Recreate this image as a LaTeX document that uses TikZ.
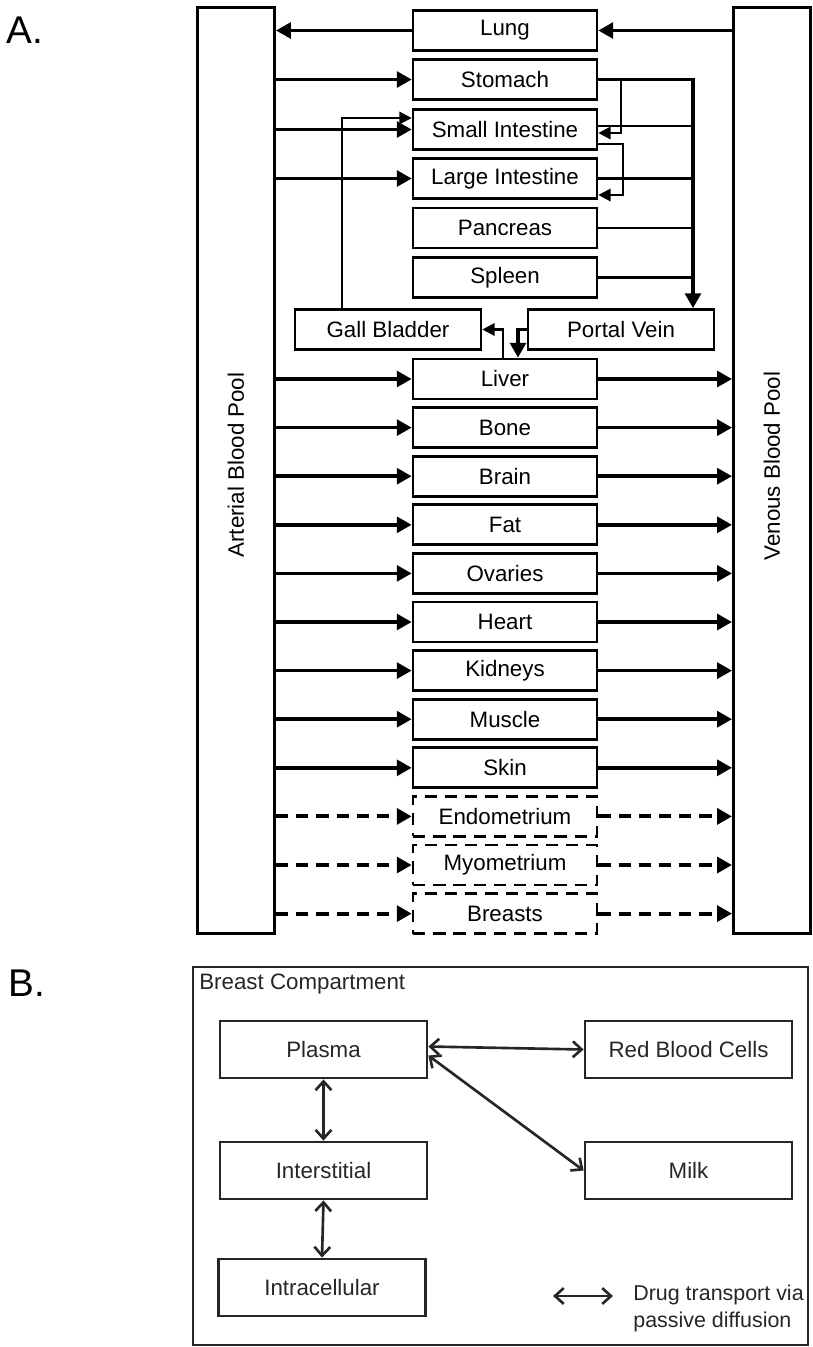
\documentclass[tikz,border=0pt]{standalone}
\usepackage{fontspec}
\setmainfont{Liberation Sans}
\usetikzlibrary{arrows.meta,calc}

\begin{document}
\begin{tikzpicture}[
    x=0.02cm, y=-0.02cm,
    organ/.style={draw, line width=1.5pt, minimum width=3.68cm,
                  minimum height=0.8cm, inner sep=0pt,
                  font=\fontsize{12.7}{15}\selectfont},
    extra/.style={organ, dash pattern=on 7pt off 4.5pt},
    pool/.style={draw, line width=1.7pt, minimum width=1.54cm,
                 minimum height=18.54cm, inner sep=0pt},
    flow/.style={line width=2pt, -{Triangle[length=8.5pt,width=9pt]}},
    dflow/.style={flow, line width=2.2pt, dash pattern=on 7pt off 4.5pt},
    gut/.style={line width=1.3pt, -{Triangle[length=7pt,width=7pt]}},
    comp/.style={draw=black!85, text=black!85, line width=1.6pt,
                 minimum width=4.14cm, minimum height=1.14cm, inner sep=0pt,
                 font=\fontsize{12.7}{15}\selectfont},
    diff/.style={draw=black!85, line width=1.5pt,
                 {Straight Barb[length=5pt,width=9pt]}-{Straight Barb[length=5pt,width=9pt]}},
  ]
    \useasboundingbox (0,0) rectangle (813,1347);

    % panel A
    \node[font=\fontsize{22}{26}\selectfont] (labA) at (25,30) {A.};
    \node[pool] (art) at (236,470.5) {};
    \node[pool] (ven) at (772,470.5) {};
    \node[rotate=90, font=\fontsize{12.7}{15}\selectfont] (artlbl) at (236,465) {Arterial Blood Pool};
    \node[rotate=90, font=\fontsize{12.7}{15}\selectfont] (venlbl) at (772,466) {Venous Blood Pool};

    \node[organ] (lung)     at (505,30.5)  {Lung};
    \node[organ] (stomach)  at (505,79.5)  {Stomach};
    \node[organ] (si)       at (505,129.5) {Small Intestine};
    \node[organ] (li)       at (505,178.5) {Large Intestine};
    \node[organ] (pancreas) at (505,228)   {Pancreas};
    \node[organ] (spleen)   at (505,277.5) {Spleen};
    \node[organ, minimum width=3.72cm] (gall) at (388,329.5) {Gall Bladder};
    \node[organ, minimum width=3.72cm] (pv)   at (621,329.5) {Portal Vein};
    \node[organ] (liver)    at (505,379)   {Liver};
    \node[organ] (bone)     at (505,427.6) {Bone};
    \node[organ] (brain)    at (505,476.2) {Brain};
    \node[organ] (fat)      at (505,524.8) {Fat};
    \node[organ] (ovaries)  at (505,573.4) {Ovaries};
    \node[organ] (heart)    at (505,622)   {Heart};
    \node[organ] (kidneys)  at (505,670.6) {Kidneys};
    \node[organ] (muscle)   at (505,719.2) {Muscle};
    \node[organ] (skin)     at (505,767.8) {Skin};
    \node[extra] (endo)     at (505,816.4) {Endometrium};
    \node[extra] (myo)      at (505,865)   {Myometrium};
    \node[extra] (breasts)  at (505,913.6) {Breasts};
    \coordinate (bus) at (693,80);

    \draw[flow] (lung.west) -- (lung.west -| art.east);
    \draw[flow] (ven.west |- lung) -- (lung.east);
    \foreach \o in {stomach,si,li,liver,bone,brain,fat,ovaries,heart,kidneys,muscle,skin}
      \draw[flow] (art.east |- \o) -- (\o.west);
    \foreach \o in {liver,bone,brain,fat,ovaries,heart,kidneys,muscle,skin}
      \draw[flow] (\o.east) -- (ven.west |- \o);
    \foreach \o in {endo,myo,breasts} {
      \draw[dflow] (art.east |- \o) -- (\o.west);
      \draw[dflow] (\o.east) -- (ven.west |- \o);
    }

    % gut and portal circulation
    \draw[gut] (stomach.east) -- ++(23,0) |- ($(si.east)+(0,3.5)$);
    \draw[gut] ($(si.east)+(0,14.5)$) -- ++(25,0) |- ($(li.east)+(0,16.5)$);
    \draw[line width=1.3pt] ($(si.east)+(0,-3.5)$) -- ++(96,0);
    \draw[line width=1.3pt] (li.east) -- (li.east -| bus);
    \draw[line width=1.3pt] (pancreas.east) -- (pancreas.east -| bus);
    \draw[line width=1.3pt] (spleen.east) -- (spleen.east -| bus);
    \draw[flow] (stomach.east) -| ($(pv.north)+(72,0)$);
    \draw[flow] (pv.west) -| ($(liver.north)+(13,0)$);
    \draw[gut] ($(liver.north)+(-2,0)$) |- (gall.east);
    \draw[gut] ($(gall.north)+(-46,0)$) |- ($(si.west)+(0,-11.5)$);

    % panel B
    \node[font=\fontsize{22}{26}\selectfont] (labB) at (27,983) {B.};
    \node[draw=black!85, line width=1.1pt, minimum width=12.3cm,
          minimum height=7.56cm, inner sep=0pt] (bc) at (500.5,1156) {};
    \node[anchor=west, inner sep=0pt, text=black!85,
          font=\fontsize{12.7}{15}\selectfont] (bctitle) at (199,984) {Breast Compartment};
    \node[comp] (plasma) at (323.5,1049.5) {Plasma};
    \node[comp] (inter)  at (323.5,1170.5) {Interstitial};
    \node[comp] (intra)  at (322,1287.5)   {Intracellular};
    \node[comp] (rbc)    at (688.5,1049.5) {Red Blood Cells};
    \node[comp] (milk)   at (688.5,1170.5) {Milk};

    \draw[diff] ($(plasma.east)+(0,-3)$) -- (rbc.west);
    \draw[diff] ($(plasma.east)+(0,6)$) -- (milk.west);
    \draw[diff] (plasma.south) -- (inter.north);
    \draw[diff] (inter.south) -- (intra.north);

    \coordinate (lgA) at (553,1296);
    \coordinate (lgB) at (613,1296);
    \draw[diff] (lgA) -- (lgB);
    \node[anchor=west, align=left, inner sep=0pt, text=black!85,
          font=\fontsize{12.2}{15.3}\selectfont] (lgtext) at (633,1308.5)
      {Drug transport via\\passive diffusion};
  \end{tikzpicture}
\end{document}
